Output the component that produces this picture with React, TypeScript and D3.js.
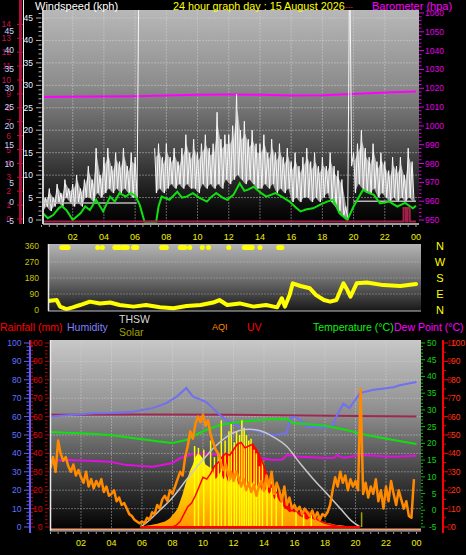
import React from "react";
import * as d3 from "d3";

const W = 466, H = 555;
const FONT = "'Liberation Sans', Arial, sans-serif";

// ---------- top panel data ----------
const hourLabels = ["02", "04", "06", "08", "10", "12", "14", "16", "18", "20", "22", "00"];
const kphTicks = [0, 5, 10, 15, 20, 25, 30, 35, 40, 45];
const beaufortTicks = [0, 1, 2, 3, 4, 5, 6, 7, 8, 9, 10, 11, 12, 13, 14];
const chillTicks = [-5, 0, 5, 10, 15, 20, 25, 30, 35, 40, 45];
const baroTicks = [950, 960, 970, 980, 990, 1000, 1010, 1020, 1030, 1040, 1050, 1060];

// gust high / low per 15 minutes (kph), NaN = no data
const gustHi = [
  6, 5, 7, 5, 8, 6, 9, 7, 8, 10, 7, 9, 12, 9, 16, 10, 14, 16, 12, 15, 13, 16, 12, 15,
  14, 60, NaN, NaN, NaN, 16, 17, 14, 17, 14, 16, 13, 16, 19, 15, 18, 15, 17, 19, 16,
  17, 24, 18, 19, 19, 21, 28, 20, 22, 18, 20, 17, 17, 19, 15, 18, 15, 17, 14, 16,
  13, 15, 12, 14, 16, 13, 15, 12, 14, 12, 15, 12, 11, 9, 3, 60, 15, 17, 20, 16,
  14, 17, 13, 15, 13, 11, 14, 12, 14, 10, 16, 13,
];
const gustLo = [
  2, 3, 2, 3, 4, 3, 5, 4, 3, 4, 3, 5, 5, 4, 6, 5, 6, 7, 6, 7, 6, 7, 6, 5,
  5, NaN, NaN, NaN, NaN, 6, 7, 6, 7, 8, 7, 8, 7, 8, 7, 7, 6, 8, 7, 8,
  7, 8, 7, 9, 8, 9, 10, 9, 8, 9, 8, 7, 7, 8, 7, 8, 6, 7, 6, 7,
  4, 5, 4, 5, 5, 4, 5, 4, 5, 6, 4, 3, 2, 1, 0, 12, 6, 8, 7, 6,
  6, 7, 5, 6, 5, 4, 5, 4, 5, 4, 5, 4,
];
const windAvg: [number, number][] = [
  [0.1, 1.5], [0.4, 0.4], [0.75, 1.1], [1.1, 2.6], [1.3, 3.1], [1.6, 2.2], [2.0, 0], [2.5, 1.5],
  [2.8, 3], [3.1, 2.2], [3.5, 4.5], [3.95, 1.9], [4.4, 5.2], [4.7, 4.1], [5.0, 6], [5.4, 5.2],
  [5.7, 6], [6.0, 5.5], [6.3, 3.3], [6.6, -0.4], [7.35, -0.4], [7.5, 3], [7.7, 5.2], [8.2, 4.5],
  [8.7, 6.3], [9.0, 5.0], [9.3, 5.2], [9.7, 6], [10.1, 5], [10.6, 4.1], [10.9, 5.2], [11.2, 6],
  [11.6, 5.0], [11.9, 4.5], [12.3, 5.6], [12.7, 8.2], [13.0, 6.5], [13.2, 6.7], [13.6, 7.4],
  [14.0, 6.2], [14.4, 5.2], [15.0, 6], [15.5, 5], [15.9, 4.1], [16.3, 2.8], [16.6, 1.9], [17.0, 2.4],
  [17.4, 2.6], [17.9, 3.5], [18.3, 4.1], [18.7, 4.5], [19.1, 1.5], [19.6, 0], [20.0, 3], [20.6, 6.7],
  [21.0, 6.0], [21.3, 5.6], [21.7, 3.7], [22.3, 4.1], [22.8, 3], [23.3, 3.8], [23.8, 2.6], [24, 3.2],
];
const steadyWind: [number, number][] = [[0.1, 3.8], [6.1, 3.8], [NaN, NaN], [20.0, 4.2], [24, 4.2]];
const baroValues: [number, number][] = [
  [0, 1015.4], [3, 1015.6], [6, 1015.8], [8, 1016.2], [10, 1016.6], [12, 1016.7], [14, 1016.5],
  [16, 1016.2], [18, 1016.3], [19.5, 1016.8], [21, 1017.3], [22.5, 1017.9], [24, 1018.3],
];
const rainRate: [number, number][] = [
  [0, 0], [23.2, 0], [23.2, 3], [23.35, 3], [23.35, 0], [23.45, 0], [23.45, 3], [23.6, 3], [23.6, 0], [24, 0],
];

// ---------- wind direction ----------
const dirTicks = [0, 90, 180, 270, 360];
const compass = ["N", "W", "S", "E", "N"];
const windDir: [number, number][] = [
  [0.45, 50], [0.54, 52], [0.97, 56], [1.19, 19], [1.6, 5], [2.0, 15], [2.47, 28], [3.1, 47], [3.75, 37],
  [4.4, 42], [5.0, 28], [5.9, 19], [6.7, 28], [7.6, 15], [8.45, 10], [9.3, 22], [10.2, 28], [11.0, 42],
  [11.4, 56], [11.9, 28], [12.7, 37], [13.6, 19], [14.4, 28], [15.1, 15], [15.4, 66], [15.6, 19],
  [15.9, 84], [16.1, 150], [16.6, 135], [17.2, 122], [17.6, 84], [18.1, 56], [18.5, 47], [18.9, 56],
  [19.35, 150], [19.6, 112], [19.8, 75], [20.2, 150], [20.85, 155], [21.9, 140], [23.0, 135], [24, 146],
];
const northSpells: [number, number][] = [
  [1.3, 1.7], [3.6, 3.6], [3.9, 3.9], [4.7, 5.0], [5.2, 5.5], [5.9, 6.1], [7.7, 8.0], [8.9, 9.2],
  [9.5, 9.5], [10.3, 10.3], [10.7, 10.7], [12.0, 12.0], [13.0, 13.5], [14.0, 14.0], [15.2, 15.4],
];

// ---------- bottom panel ----------
const pctTicks = [0, 10, 20, 30, 40, 50, 60, 70, 80, 90, 100];
const tempTicks = [-5, 0, 5, 10, 15, 20, 25, 30, 35, 40, 45, 50];
const uvTicks = [0, 1, 2, 3, 4, 5, 6, 7, 8, 9, 10];

const humidity: [number, number][] = [
  [0, 60], [1.5, 61], [2.8, 61.8], [4.0, 62], [5.4, 62.7], [6.7, 64.6], [7.6, 67.3], [8.3, 71],
  [8.9, 75.5], [9.35, 70.8], [10.2, 68], [11.1, 61], [11.55, 58], [12.4, 54.5], [13.7, 51.8],
  [14.6, 50], [15.5, 51], [15.7, 59], [16.0, 60], [16.4, 58], [16.8, 54.5], [18.1, 54], [18.5, 55],
  [18.8, 61], [19.2, 67], [19.6, 64.6], [20.3, 72.8], [21.1, 74.5], [22.5, 76], [22.9, 77], [24, 78.8],
];
const indoorLine: [number, number][] = [[0, 61], [6, 61.2], [12, 61], [18, 60.5], [24, 60]];
const temperature: [number, number][] = [
  [0, 23.4], [1, 23.2], [2, 23], [3, 22.8], [4, 22.4], [5, 21.8], [6, 21.2], [7, 20.6], [8, 20.1],
  [8.9, 21], [9.5, 22.5], [10.2, 24], [11.1, 25.5], [12.4, 26.4], [13.7, 27], [14.5, 27.2],
  [15.5, 27.3], [15.9, 26], [17, 25.7], [18.1, 25.2], [19.4, 24], [20.7, 22.5], [22.5, 21], [24, 19.8],
];
const dewPoint: [number, number][] = [
  [0, 14.8], [1.3, 15], [2.5, 14.8], [3.9, 14.5], [5, 13.5], [6.7, 13], [8, 14.1], [8.5, 15.6],
  [9.35, 16.8], [10.2, 17], [11.9, 16], [13.7, 15.6], [14.6, 15], [15.2, 15.2], [15.5, 16.5],
  [16.4, 16], [18.1, 15.6], [18.6, 15.7], [18.8, 16.5], [19.1, 15.8], [19.4, 15.8], [20.3, 16.5],
  [22.5, 16], [24, 16.3],
];
// AQI every 10 minutes
const aqi = [
  32, 38, 30, 47, 40, 36, 38, 33, 30, 34, 28, 31, 27, 24, 30, 22, 26, 21, 25, 22, 26, 19, 22, 17,
  18, 20, 14, 16, 12, 13, 10, 7, 6, 4, 3, 2, 3, 2, 5, 4, 8, 7, 12, 10, 15, 17, 14, 20,
  18, 22, 26, 30, 28, 38, 44, 52, 48, 56, 60, 57, 61, 55, 58, 50, 46, 42, 40, 35, 31, 34, 28, 30,
  25, 30, 27, 22, 26, 20, 24, 19, 23, 17, 22, 25, 20, 28, 22, 30, 18, 24, 20, 14, 22, 12, 16, 10,
  12, 9, 11, 7, 10, 8, 6, 9, 5, 8, 4, 7, 6, 8, 12, 20, 27, 22, 30, 24, 28, 20, 26, 22,
  25, 20, 75, 18, 24, 16, 22, 18, 26, 14, 20, 10, 22, 14, 25, 18, 12, 20, 15, 10, 14, 6, 5, 26,
];
// solar base W/m2 every 10 minutes from 06:00
const solarStart = 6;
const solarBase = [
  0, 4, 8, 10, 12, 15, 18, 22, 26, 30, 38, 48,
  65, 80, 100, 140, 180, 230, 270, 310, 340, 380, 400, 390,
  370, 340, 330, 320, 300, 260, 280, 300, 260, 280, 240, 260,
  250, 270, 230, 260, 250, 220, 240, 230, 250, 210, 240, 200,
  190, 210, 180, 200, 150, 170, 140, 130, 100, 95, 80, 85,
  80, 75, 60, 55, 45, 40, 50, 45, 40, 55, 35, 30,
  25, 20, 20, 15, 12, 10, 10, 8, 6, 5, 3, 2, 1, 0, 0,
];
// solar short peaks [hour, W/m2]
const solarPeaks: [number, number][] = [
  [9.45, 440], [9.7, 430], [10.05, 420], [10.5, 470], [10.75, 380], [11.0, 400], [11.2, 580],
  [11.45, 470], [11.7, 520], [11.85, 560], [12.05, 460], [12.2, 520], [12.4, 500], [12.55, 580],
  [12.7, 540], [12.85, 500], [13.0, 470], [13.15, 480], [13.35, 420], [13.5, 400], [13.7, 330],
  [13.9, 360], [14.2, 280], [14.5, 260], [14.8, 230], [15.2, 180], [16.1, 100], [16.6, 70], [17.1, 70],
];
// UV index every 15 minutes from 08:00
const uvStart = 8;
const uv = [
  0, 0.1, 0.3, 0.7, 1.1, 1.3, 1.7, 2.2, 2.7, 2.6, 2.9, 3.3, 3.5, 3.8, 4.0, 3.9, 4.2, 4.5, 4.6, 4.3,
  4.4, 4.5, 4.2, 3.8, 3.3, 2.7, 2.2, 1.9, 1.8, 1.5, 1.3, 1.0, 0.9, 0.8, 0.8, 0.9, 0.8, 0.6, 0.4, 0.3,
  0.2, 0.15, 0.1, 0.05, 0,
];
const clearSky: [number, number][] = [
  [5.9, 0], [6.08, 10], [7.18, 92], [8.05, 165], [8.9, 255], [9.8, 346], [10.68, 428], [11.55, 490],
  [12.4, 524], [13.08, 531], [13.7, 524], [14.6, 490], [15.5, 437], [16.36, 346], [17.2, 264],
  [18.1, 183], [19.0, 101], [19.8, 29], [20.3, 0],
];
const sunMarks: [number, number][] = [[5.95, 25], [20.4, 80]];

export default function App() {
  const xTop = d3.scaleLinear().domain([0, 24]).range([41.5, 416]);
  const yWind = d3.scaleLinear().domain([0, 45]).range([220, 18]);
  const yBaro = d3.scaleLinear().domain([950, 1060]).range([220, 13]);
  const yBeau = d3.scaleLinear().domain([0, 15]).range([219, 10.5]);
  const yChill = d3.scaleLinear().domain([-5, 50]).range([221, 12]);
  const yRain = d3.scaleLinear().domain([0, 10]).range([221.5, 176.5]);
  const yDir = d3.scaleLinear().domain([0, 360]).range([310, 246]);
  const xBot = d3.scaleLinear().domain([0, 24]).range([50.5, 416.5]);
  const yPct = d3.scaleLinear().domain([0, 100]).range([527, 343]);
  const yTemp = d3.scaleLinear().domain([-5, 50]).range([527, 343]);
  const yUV = d3.scaleLinear().domain([0, 10]).range([527, 343]);
  const ySolar = d3.scaleLinear().domain([0, 1000]).range([527, 343]);

  const top = { x0: 43, x1: 419, y0: 10, y1: 224 };
  const dir = { x0: 48, x1: 421, y0: 244, y1: 311 };
  const bot = { x0: 50, x1: 421, y0: 340, y1: 531 };

  const lineTop = (ys: d3.ScaleLinear<number, number>) =>
    d3.line<[number, number]>().defined((d) => !isNaN(d[0]) && !isNaN(d[1])).x((d) => xTop(d[0])).y((d) => ys(d[1]));
  const lineBot = (ys: d3.ScaleLinear<number, number>) =>
    d3.line<[number, number]>().defined((d) => !isNaN(d[1])).x((d) => xBot(d[0])).y((d) => ys(d[1]));

  const gustZig: [number, number][] = [];
  gustHi.forEach((v, i) => {
    gustZig.push([i * 0.25, v]);
    gustZig.push([i * 0.25 + 0.125, gustLo[i]]);
  });
  const gustBand = gustHi.map((v, i) => ({ t: i * 0.25 + 0.0625, hi: v, lo: gustLo[i] }));
  const gustArea = d3
    .area<{ t: number; hi: number; lo: number }>()
    .defined((d) => !isNaN(d.hi) && d.hi < 40)
    .x((d) => xTop(d.t))
    .y0((d) => yWind(d.lo))
    .y1((d) => yWind(d.hi * 0.8 + d.lo * 0.2));

  const aqiPts: [number, number][] = aqi.map((v, i) => [i / 6, v]);
  const solarPts: [number, number][] = solarBase.map((v, i) => [solarStart + i / 6, v]);
  const uvPts: [number, number][] = uv.map((v, i) => [uvStart + i * 0.25, v]);

  const solarArea = d3.area<[number, number]>().x((d) => xBot(d[0])).y0(ySolar(0)).y1((d) => ySolar(d[1]));
  const uvArea = d3.area<[number, number]>().x((d) => xBot(d[0])).y0(yUV(0)).y1((d) => yUV(d[1]));

  const hourTicks = d3.range(0, 24.01, 0.5);
  const gridHours = d3.range(2, 23, 2);

  const txt = (size: number, fill: string, anchor = "start") => ({
    fontFamily: FONT,
    fontSize: size,
    fill,
    textAnchor: anchor as any,
  });

  return (
    <svg width={W} height={H} style={{ position: "absolute", left: 0, top: 0, display: "block" }}>
      <defs>
        <linearGradient id="gTop" x1="0" y1="0" x2="0" y2="1">
          <stop offset="0" stopColor="#b8b8b8" />
          <stop offset="0.35" stopColor="#8c8c8c" />
          <stop offset="0.7" stopColor="#404040" />
          <stop offset="0.92" stopColor="#0c0c0c" />
          <stop offset="1" stopColor="#000" />
        </linearGradient>
        <linearGradient id="gDir" x1="0" y1="0" x2="0" y2="1">
          <stop offset="0" stopColor="#b4b4b4" />
          <stop offset="0.55" stopColor="#6a6a6a" />
          <stop offset="1" stopColor="#181818" />
        </linearGradient>
        <linearGradient id="gBot" x1="0" y1="0" x2="0" y2="1">
          <stop offset="0" stopColor="#c8c8c8" />
          <stop offset="0.4" stopColor="#8a8a8a" />
          <stop offset="0.75" stopColor="#363636" />
          <stop offset="1" stopColor="#000" />
        </linearGradient>
        <linearGradient id="gSolar" gradientUnits="userSpaceOnUse" x1="0" y1="450" x2="0" y2="527">
          <stop offset="0" stopColor="#ffff10" />
          <stop offset="0.5" stopColor="#ffd400" />
          <stop offset="1" stopColor="#ff9800" />
        </linearGradient>
        <clipPath id="cTop">
          <rect x={top.x0} y={top.y0} width={top.x1 - top.x0} height={top.y1 - top.y0} />
        </clipPath>
        <clipPath id="cDir">
          <rect x={dir.x0} y={dir.y0} width={dir.x1 - dir.x0} height={dir.y1 - dir.y0} />
        </clipPath>
        <clipPath id="cBot">
          <rect x={bot.x0} y={bot.y0} width={bot.x1 - bot.x0} height={bot.y1 - bot.y0} />
        </clipPath>
      </defs>
      <rect x={0} y={0} width={W} height={H} fill="#000" />

      {/* ================= TOP PANEL ================= */}
      <rect x={top.x0} y={top.y0} width={top.x1 - top.x0} height={top.y1 - top.y0} fill="url(#gTop)" />
      <g clipPath="url(#cTop)">
        {kphTicks.slice(1).map((k) => (
          <line key={k} x1={top.x0} x2={top.x1} y1={yWind(k)} y2={yWind(k)} stroke="#d8d8d8" strokeOpacity={0.45} strokeDasharray="2,1" />
        ))}
        {gridHours.map((h) => (
          <line key={h} x1={xTop(h)} x2={xTop(h)} y1={top.y0} y2={top.y1} stroke="#d8d8d8" strokeOpacity={0.45} strokeDasharray="2,1" />
        ))}
        <path d={lineTop(yBaro)(baroValues) || ""} fill="none" stroke="#ff00ff" strokeWidth={2} />
        <path d={gustArea(gustBand) || ""} fill="#f4f4f4" fillOpacity={0.6} />
        <path d={lineTop(yWind)(gustZig) || ""} fill="none" stroke="#f8f8f8" strokeWidth={1} />
        <path d={lineTop(yWind)(steadyWind) || ""} fill="none" stroke="#b8b8b8" strokeWidth={1.5} />
        <path d={lineTop(yWind)(windAvg) || ""} fill="none" stroke="#10e010" strokeWidth={2} />
        <path d={lineTop(yRain)(rainRate) || ""} fill="none" stroke="#a0204a" strokeWidth={2} />
      </g>
      <line x1={top.x0} x2={top.x0} y1={top.y0} y2={top.y1} stroke="#d0d0d0" strokeWidth={2} />
      <line x1={top.x0} x2={top.x1} y1={top.y1} y2={top.y1} stroke="#d0d0d0" strokeWidth={1.5} />
      {hourTicks.map((h) => (
        <line key={h} x1={xTop(h)} x2={xTop(h)} y1={top.y1 + 1} y2={top.y1 + 3} stroke="#a0a0a0" />
      ))}
      {hourLabels.map((l, i) => (
        <text key={l + i} x={xTop((i + 1) * 2)} y={240} {...txt(9, "#f0f000", "middle")}>{l}</text>
      ))}

      {/* left axes of top panel */}
      <rect x={19} y={0} width={3} height={top.y1} fill="#a8103c" />
      {beaufortTicks.map((b) => (
        <line key={b} x1={17} x2={24} y1={yBeau(b)} y2={yBeau(b)} stroke="#c01040" />
      ))}
      <line x1={23.5} x2={23.5} y1={0} y2={top.y1} stroke="#f0f0f0" />
      {beaufortTicks.map((b) => (
        <text key={b} x={11} y={yBeau(b) + 3} {...txt(8.5, "#c8104a", "end")}>{b}</text>
      ))}
      {chillTicks.map((c) => (
        <text key={c} x={14} y={yChill(c) + 3} {...txt(8.5, "#c8d8ff", "end")}>{c}</text>
      ))}
      {d3.range(0, 47, 1).map((k) => (
        <line key={k} x1={k % 5 === 0 ? 36 : 38.5} x2={41.5} y1={yWind(k)} y2={yWind(k)} stroke="#b0b0b0" />
      ))}
      {kphTicks.map((k) => (
        <text key={k} x={33} y={yWind(k) + 3} {...txt(8.5, "#e8eeff", "end")}>{k}</text>
      ))}
      {/* right barometer axis */}
      {d3.range(950, 1061, 2).map((b) => (
        <line key={b} x1={419} x2={b % 10 === 0 ? 424 : 421.5} y1={yBaro(b)} y2={yBaro(b)} stroke="#e000e0" />
      ))}
      {baroTicks.map((b) => (
        <text key={b} x={425} y={yBaro(b) + 3} {...txt(8.5, "#e000e0")}>{b}</text>
      ))}
      {/* titles */}
      <text x={35} y={10} {...txt(11, "#ffffff")}>Windspeed (kph)</text>
      <text x={173} y={10} {...txt(10.8, "#ffff00")}>24 hour graph day : 15 August 2026</text>
      <text x={345} y={9} {...txt(8, "#ff2020")}>---</text>
      <text x={372} y={10} {...txt(11, "#ff00ff")}>Barometer (hpa)</text>

      {/* ================= WIND DIRECTION ================= */}
      <rect x={dir.x0} y={dir.y0} width={dir.x1 - dir.x0} height={dir.y1 - dir.y0} fill="url(#gDir)" />
      <g clipPath="url(#cDir)">
        {[90, 180, 270].map((d) => (
          <line key={d} x1={dir.x0} x2={dir.x1} y1={yDir(d)} y2={yDir(d)} stroke="#d0d0d0" strokeOpacity={0.35} strokeDasharray="2,1" />
        ))}
        <path d={lineTop(yDir)(windDir) || ""} fill="none" stroke="#ffff00" strokeWidth={4} strokeLinejoin="round" strokeLinecap="round" />
        {northSpells.map(([a, b], i) => (
          <line key={i} x1={xTop(a)} x2={xTop(b)} y1={yDir(352)} y2={yDir(352)} stroke="#ffff00" strokeWidth={5} strokeLinecap="round" />
        ))}
      </g>
      <line x1={dir.x0 + 0.5} x2={dir.x0 + 0.5} y1={dir.y0} y2={dir.y1} stroke="#e8e8e8" strokeWidth={1.5} />
      <line x1={dir.x0} x2={dir.x1} y1={dir.y1} y2={dir.y1} stroke="#c0c0c0" />
      {dirTicks.map((d) => (
        <text key={d} x={39} y={yDir(d) + 3} {...txt(8.5, "#c8c800", "end")}>{d}</text>
      ))}
      {dirTicks.map((d, i) => (
        <text key={i} x={440} y={yDir(360 - d) + 4} {...txt(11, "#ffff00", "middle")}>{compass[i]}</text>
      ))}

      {/* ================= LEGEND ================= */}
      <text x={0} y={331} {...txt(10.5, "#ff0000")}>Rainfall (mm)</text>
      <text x={67} y={331} {...txt(10.5, "#8080ff")}>Humidity</text>
      <text x={119} y={323} {...txt(10.5, "#d8d8d8")}>THSW</text>
      <text x={119} y={336} {...txt(10.5, "#a0a000")}>Solar</text>
      <text x={212} y={330} {...txt(9, "#ff8c00")}>AQI</text>
      <text x={247} y={331} {...txt(10.5, "#ff0000")}>UV</text>
      <text x={313} y={331} {...txt(10.5, "#10f010")}>Temperature (°C)</text>
      <text x={394} y={331} {...txt(10.5, "#ff00ff")}>Dew Point (°C)</text>

      {/* ================= BOTTOM PANEL ================= */}
      <rect x={bot.x0} y={bot.y0} width={bot.x1 - bot.x0} height={bot.y1 - bot.y0} fill="url(#gBot)" />
      <g clipPath="url(#cBot)">
        {pctTicks.slice(1, 10).map((p) => (
          <line key={p} x1={bot.x0} x2={bot.x1} y1={yPct(p)} y2={yPct(p)} stroke="#d8d8d8" strokeOpacity={0.4} strokeDasharray="2,1" />
        ))}
        {gridHours.map((h) => (
          <line key={h} x1={xBot(h)} x2={xBot(h)} y1={bot.y0} y2={bot.y1} stroke="#d8d8d8" strokeOpacity={0.4} strokeDasharray="2,1" />
        ))}
        <path d={lineBot(yPct)(indoorLine) || ""} fill="none" stroke="#a02850" strokeWidth={2} />
        <path d={lineBot(yPct)(humidity) || ""} fill="none" stroke="#7070f0" strokeWidth={2} />
        <path d={lineBot(yTemp)(temperature) || ""} fill="none" stroke="#10e010" strokeWidth={2} />
        <path d={lineBot(yTemp)(dewPoint) || ""} fill="none" stroke="#e010e0" strokeWidth={2} />
        <path d={uvArea(uvPts) || ""} fill="#ff0000" />
        <path d={solarArea(solarPts) || ""} fill="url(#gSolar)" />
        {solarPeaks.map(([h, v], i) => (
          <line key={i} x1={xBot(h)} x2={xBot(h)} y1={ySolar(0)} y2={ySolar(v)} stroke="#ffff00" strokeWidth={1.5} />
        ))}
        <path d={lineBot(yUV)(uvPts) || ""} fill="none" stroke="#ff0000" strokeWidth={1.5} />
        <path d={d3.line<[number, number]>().x((d) => xBot(d[0])).y((d) => ySolar(d[1])).curve(d3.curveMonotoneX)(clearSky) || ""} fill="none" stroke="#c8c8c8" strokeWidth={1.5} />
        <path d={lineBot(yPct)(aqiPts) || ""} fill="none" stroke="#ff8a00" strokeWidth={2.5} strokeLinejoin="round" />
        {sunMarks.map(([h, v], i) => (
          <line key={i} x1={xBot(h)} x2={xBot(h)} y1={ySolar(0)} y2={ySolar(v)} stroke="#a0a000" strokeWidth={1.5} />
        ))}
        <line x1={xBot(5.9)} x2={xBot(20.3)} y1={yPct(0)} y2={yPct(0)} stroke="#ff0000" strokeWidth={2} />
        <line x1={bot.x0} x2={bot.x1} y1={yPct(0) + 2.5} y2={yPct(0) + 2.5} stroke="#f0a070" strokeWidth={2} />
      </g>
      <line x1={bot.x0 + 0.5} x2={bot.x0 + 0.5} y1={bot.y0} y2={bot.y1} stroke="#e8e8e8" strokeWidth={1.5} />
      <line x1={bot.x0} x2={bot.x1} y1={bot.y1} y2={bot.y1} stroke="#c0c0c0" />
      {hourTicks.map((h) => (
        <line key={h} x1={xBot(h)} x2={xBot(h)} y1={bot.y1 + 1} y2={bot.y1 + 3} stroke="#a0a0a0" />
      ))}
      {hourLabels.map((l, i) => (
        <text key={l + i} x={xBot((i + 1) * 2)} y={546} {...txt(9, "#f0f000", "middle")}>{l}</text>
      ))}

      {/* left axes bottom */}
      <rect x={29} y={bot.y0} width={2} height={bot.y1 - bot.y0 + 2} fill="#6060ff" />
      {d3.range(0, 101, 2).map((p) => (
        <g key={p}>
          <line x1={p % 10 === 0 ? 24 : 26.5} x2={29} y1={yPct(p)} y2={yPct(p)} stroke="#6060ff" />
          <line x1={31} x2={p % 10 === 0 ? 35 : 33} y1={yPct(p)} y2={yPct(p)} stroke="#d00000" />
          <line x1={45} x2={p % 10 === 0 ? 49 : 47.5} y1={yPct(p)} y2={yPct(p)} stroke="#c00000" />
        </g>
      ))}
      {pctTicks.map((p) => (
        <text key={"h" + p} x={21.5} y={yPct(p) + 3} {...txt(8.5, "#6070ff", "end")}>{p}</text>
      ))}
      {pctTicks.map((p) => (
        <text key={"r" + p} x={42.5} y={yPct(p) + 3} {...txt(8.5, "#e00000", "end")}>{p}</text>
      ))}
      {/* right axes bottom */}
      {d3.range(-5, 51, 1).map((t) => (
        <line key={t} x1={421} x2={t % 5 === 0 ? 425 : 423} y1={yTemp(t)} y2={yTemp(t)} stroke="#00c000" />
      ))}
      {tempTicks.map((t) => (
        <text key={t} x={436.5} y={yTemp(t) + 3} {...txt(8.5, "#10d010", "end")}>{t}</text>
      ))}
      <rect x={442} y={bot.y0} width={2} height={bot.y1 - bot.y0 + 2} fill="#ff0000" />
      {d3.range(0, 10.01, 0.5).map((u) => (
        <line key={u} x1={444} x2={u % 1 === 0 ? 448 : 446} y1={yUV(u)} y2={yUV(u)} stroke="#ff0000" />
      ))}
      {uvTicks.map((u) => (
        <text key={"u" + u} x={447} y={yUV(u) + 3} {...txt(8.5, "#d00000")}>{u}</text>
      ))}
      {pctTicks.map((p) => (
        <text key={"a" + p} x={451} y={yPct(p) + 3} {...txt(8.5, "#ff3a10")}>{p}</text>
      ))}
    </svg>
  );
}
